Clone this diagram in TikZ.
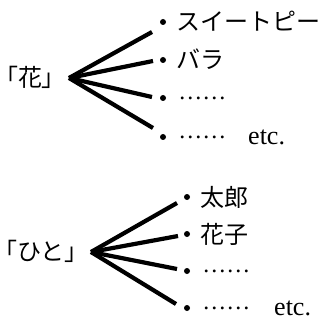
\documentclass[tikz,border=0pt]{standalone}
\usepackage{fontspec}
\setmainfont{Liberation Serif}
\newfontfamily\jpfont{Noto Sans CJK JP}
\newfontfamily\jpbracket[RawFeature=+palt]{Noto Sans CJK JP}
\usetikzlibrary{positioning}
\tikzset{
x=1pt,y=-1pt,
word/.style={font=\jpfont\fontsize{24}{24}\selectfont,inner sep=0pt,text height=21pt,text depth=3pt},
leader/.style={font=\fontsize{24}{24}\selectfont,inner sep=0pt,text height=21pt,text depth=3pt},
latin/.style={font=\fontsize{26}{26}\selectfont,inner sep=0pt,anchor=base west},
dot/.style={circle,fill,inner sep=0pt,minimum size=6pt},
spoke/.style={line width=4.2pt}
}
\newcommand{\middots}{\raisebox{7.6pt}{……}}
\newcommand{\quoted}[1]{{\jpbracket 「}#1{\jpbracket 」}}

\begin{document}
\begin{tikzpicture}
\useasboundingbox (0,0) rectangle (320,320);
% 花
\node[word,anchor=west] (hana) at (6,78) {\quoted{花}};
\coordinate (hana root) at (69,78);
\node[dot] (h1) at (163,22) {};
\node[dot] (h2) at (163,60) {};
\node[dot] (h3) at (163,98) {};
\node[dot] (h4) at (163,137) {};
\node[word,right=10pt of h1] (sweetpea) {スイートピー};
\node[word,right=10pt of h2] (rose) {バラ};
\node[leader,right=12pt of h3] (hdots1) {\middots};
\node[leader,right=12pt of h4] (hdots2) {\middots};
\node[latin] (hetc) at (248,144) {etc.};
\coordinate (h1 end) at (152,32);
\coordinate (h2 end) at (153,61);
\coordinate (h3 end) at (152,97);
\coordinate (h4 end) at (153,128);
\path[spoke] (hana root) edge (h1 end)
                         edge (h2 end)
                         edge (h3 end)
                         edge (h4 end);

% ひと
\node[word,anchor=west] (hito) at (5,251) {\quoted{ひと}};
\coordinate (hito root) at (91,252);
\node[dot] (p1) at (187,197) {};
\node[dot] (p2) at (187,234) {};
\node[dot] (p3) at (187,271) {};
\node[dot] (p4) at (187,308) {};
\node[word,right=10pt of p1] (taro) {太郎};
\node[word,right=10pt of p2] (hanako) {花子};
\node[leader,right=12pt of p3] (pdots1) {\middots};
\node[leader,right=12pt of p4] (pdots2) {\middots};
\node[latin] (petc) at (274,315) {etc.};
\coordinate (p1 end) at (177,203);
\coordinate (p2 end) at (178,236);
\coordinate (p3 end) at (177,269);
\coordinate (p4 end) at (176,304);
\path[spoke] (hito root) edge (p1 end)
                         edge (p2 end)
                         edge (p3 end)
                         edge (p4 end);
\end{tikzpicture}
\end{document}
